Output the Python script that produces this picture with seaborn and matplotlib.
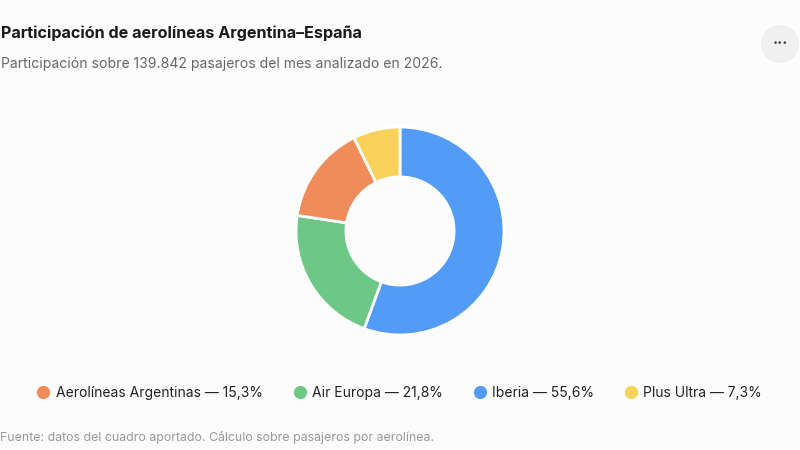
import matplotlib
matplotlib.use("Agg")
import matplotlib.pyplot as plt
from matplotlib.lines import Line2D
from matplotlib.patches import Circle
import seaborn as sns

sns.set_theme(style="white")
plt.rcParams['font.family'] = ['Inter', 'DejaVu Sans']

airlines = ["Aerolíneas Argentinas", "Air Europa", "Iberia", "Plus Ultra"]
shares = [15.3, 21.8, 55.6, 7.3]
labels_pct = ["15,3%", "21,8%", "55,6%", "7,3%"]
colors = ["#f08c5a", "#6cc884", "#529cf8", "#f8d25a"]

bg = "#fcfcfc"
fig = plt.figure(figsize=(8, 4.5), dpi=100, facecolor=bg)

# donut: sorted descending, clockwise from top
order = sorted(range(len(shares)), key=lambda i: -shares[i])
r_px = 104
cx, cy = 400, 231
ax = fig.add_axes([(cx - r_px) / 800, (450 - cy - r_px) / 450, 2 * r_px / 800, 2 * r_px / 450])
ax.set_facecolor(bg)
ax.pie([shares[i] for i in order], colors=[colors[i] for i in order],
       startangle=90, counterclock=False, radius=1.0,
       wedgeprops=dict(width=0.48, edgecolor="white", linewidth=2))
ax.set_xlim(-1, 1)
ax.set_ylim(-1, 1)
ax.set_aspect("equal")
ax.axis("off")

fig.text(1 / 800, 1 - 33 / 450, "Participación de aerolíneas Argentina–España",
         fontsize=11.6, fontweight="bold", color="#1a1a1a", va="center", ha="left")
fig.text(1 / 800, 1 - 64 / 450, "Participación sobre 139.842 pasajeros del mes analizado en 2026.",
         fontsize=10.05, color="#666666", va="center", ha="left")
fig.text(0 / 800, 1 - 437 / 450, "Fuente: datos del cuadro aportado. Cálculo sobre pasajeros por aerolínea.",
         fontsize=8.9, color="#999999", va="center", ha="left")

handles = [Line2D([0], [0], marker="o", linestyle="", markersize=8.5,
                  markerfacecolor=c, markeredgecolor=c) for c in colors]
leg_labels = [f"{a} — {p}" for a, p in zip(airlines, labels_pct)]
fig.legend(handles, leg_labels, loc="center", bbox_to_anchor=(0.5, 1 - 393 / 450),
           ncol=4, frameon=False, fontsize=10, handlelength=0.8, handletextpad=0.5,
           columnspacing=2.25, labelcolor="#222222")

# menu button
fig.patches.append(Circle((780, 450 - 44), 19, transform=None, facecolor="#f0f0f0",
                          edgecolor="none"))
fig.text(780 / 800, 1 - 43 / 450, "···", fontsize=11, color="#444444",
         ha="center", va="center", fontweight="bold")

fig.savefig("out.png", dpi=100, facecolor=bg)
